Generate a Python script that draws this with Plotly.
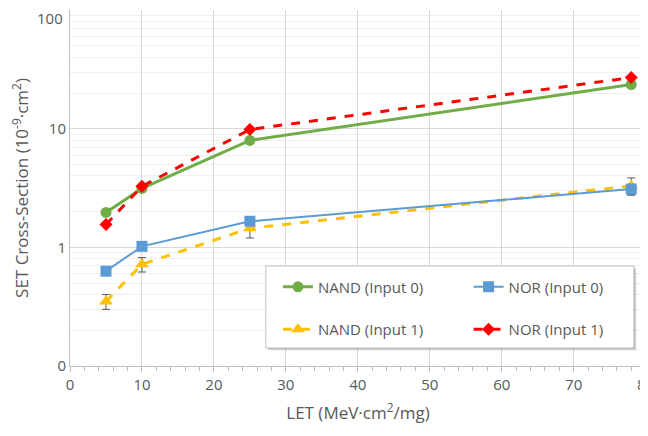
import plotly.graph_objects as go

let_x = [5, 10, 25, 78]
nand0 = [1.97, 3.14, 7.97, 23.6]
nor0 = [0.63, 1.02, 1.66, 3.1]
nand1 = [0.35, 0.72, 1.45, 3.3]
nor1 = [1.56, 3.27, 9.86, 27.0]
nand1_err = [0.05, 0.1, 0.25, 0.55]
nor0_err = [0.05, 0.0, 0.0, 0.3]

ytick_vals = [0.1, 1, 10, 100]
ytick_text = ["0", "1", "10", "100"]
minor_vals = [m * d for d in [0.1, 1, 10] for m in range(2, 10)]

FONT = "Open Sans"
GRAY = "#595959"

fig = go.Figure()

fig.add_trace(go.Scatter(x=let_x, y=nand0, name="NAND (Input 0)", mode="lines+markers",
                         line=dict(color="#70AD47", width=3), marker=dict(symbol="circle", size=11),
                         legend="legend", legendgroup="a"))
fig.add_trace(go.Scatter(x=let_x, y=nand1, name="NAND (Input 1)", mode="lines+markers",
                         line=dict(color="#FFC000", width=3, dash="dash"),
                         marker=dict(symbol="triangle-up", size=12),
                         error_y=dict(type="data", array=nand1_err, color="#595959", thickness=1, width=4),
                         legend="legend", legendgroup="b"))
fig.add_trace(go.Scatter(x=let_x, y=nor0, name="NOR (Input 0)", mode="lines+markers",
                         line=dict(color="#5B9BD5", width=2), marker=dict(symbol="square", size=11),
                         error_y=dict(type="data", array=nor0_err, color="#595959", thickness=1, width=4),
                         legend="legend2", legendgroup="c"))
fig.add_trace(go.Scatter(x=let_x, y=nor1, name="NOR (Input 1)", mode="lines+markers",
                         line=dict(color="#FF0000", width=3, dash="dash"),
                         marker=dict(symbol="diamond", size=10),
                         legend="legend2", legendgroup="d"))

# legend box with shadow
bx0, bx1, by0, by1 = 0.340, 0.979, 0.0506, 0.281
for i, op in enumerate([0.06, 0.10, 0.16]):
    off = (3 - i)
    fig.add_shape(type="rect", xref="paper", yref="paper",
                  x0=bx0 + off / 576, x1=bx1 + off / 576, y0=by0 - off / 356, y1=by1 - off / 356,
                  line=dict(width=0), fillcolor=f"rgba(0,0,0,{op})", layer="above")
fig.add_shape(type="rect", xref="paper", yref="paper", x0=bx0, x1=bx1, y0=by0, y1=by1,
              line=dict(color="#bfbfbf", width=1), fillcolor="white", layer="above")

# top tick label drawn as annotation, nudged down so it is not clipped at the page top
fig.add_annotation(x=0, xref="paper", xanchor="right", xshift=-6, y=2, yref="y", yanchor="middle",
                   yshift=-8, borderpad=0, text=ytick_text[-1], showarrow=False,
                   font=dict(family=FONT, size=15, color=GRAY))

leg_common = dict(bgcolor="rgba(0,0,0,0)", borderwidth=0, font=dict(family=FONT, size=15, color=GRAY),
                  traceorder="grouped", tracegroupgap=20, yanchor="top", xanchor="left")

# page has an 8px body margin, so the figure is 640x428 and offset by 8px
fig.update_layout(
    width=640, height=428,
    margin=dict(l=62, r=2, t=2, b=70, autoexpand=False),
    paper_bgcolor="white", plot_bgcolor="white",
    font=dict(family=FONT, color=GRAY, size=15),
    legend=dict(x=0.361, y=0.268, **leg_common),
    legend2=dict(x=0.692, y=0.268, **leg_common),
    xaxis=dict(range=[0, 80.05], dtick=10, tick0=0, showgrid=True, gridcolor="#d9d9d9", gridwidth=1,
               showline=True, linecolor="#bfbfbf", linewidth=1, zeroline=False, automargin=False,
               ticks="outside", ticklen=5, tickcolor="#bfbfbf", ticklabeloverflow="allow",
               minor=dict(dtick=2, ticks="outside", ticklen=4, tickcolor="#bfbfbf", showgrid=False),
               tickfont=dict(size=15, color=GRAY),
               title=dict(text="LET (MeV·cm<sup>2</sup>/mg)", font=dict(size=17, color=GRAY), standoff=14)),
    yaxis=dict(type="log", range=[-1, 2.001], tickvals=ytick_vals,
               ticktext=ytick_text[:-1] + [""],
               showgrid=True, gridcolor="#d9d9d9", gridwidth=1, automargin=False,
               showline=True, linecolor="#bfbfbf", linewidth=1, zeroline=False,
               ticks="", tickfont=dict(size=15, color=GRAY), ticklabeloverflow="allow",
               minor=dict(tickvals=minor_vals, showgrid=True, gridcolor="#efefef", gridwidth=1, ticks=""),
               title=dict(text="SET Cross-Section (10<sup>-9</sup>·cm<sup>2</sup>)",
                          font=dict(size=17, color=GRAY), standoff=17)),
)

fig.write_html("out.html")
